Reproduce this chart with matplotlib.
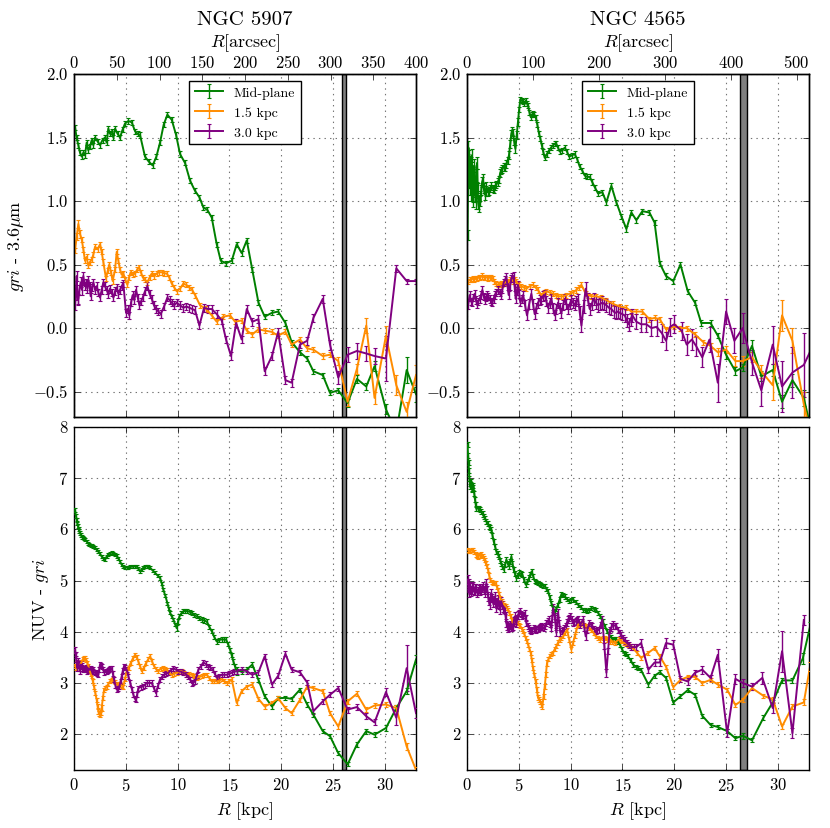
import matplotlib
matplotlib.use('Agg')
import matplotlib.pyplot as plt

plt.style.use('classic')
plt.rcParams['font.family'] = 'serif'
plt.rcParams['font.serif'] = ['cmr10']
plt.rcParams['mathtext.fontset'] = 'cm'
plt.rcParams['axes.formatter.use_mathtext'] = True
plt.rcParams['figure.facecolor'] = 'white'
plt.rcParams['savefig.facecolor'] = 'white'

# (R [kpc], colour, error)
# ---- NGC 5907, gri - 3.6um
n5907_gri_mid = [(0.10,1.58,.02),(0.25,1.50,.02),(0.42,1.44,.02),(0.58,1.38,.02),(0.74,1.35,.02),(0.90,1.38,.02),
    (1.06,1.36,.02),(1.22,1.46,.02),(1.38,1.40,.02),(1.54,1.43,.02),(1.71,1.48,.02),(1.87,1.44,.02),(2.03,1.50,.02),
    (2.27,1.47,.02),(2.51,1.44,.02),(2.75,1.48,.02),(2.99,1.50,.02),(3.15,1.46,.02),(3.31,1.57,.02),(3.47,1.53,.02),
    (3.64,1.55,.02),(3.80,1.50,.02),(3.96,1.57,.02),(4.20,1.53,.02),(4.44,1.50,.02),(4.68,1.56,.02),(4.92,1.61,.02),
    (5.24,1.63,.02),(5.57,1.62,.02),(5.89,1.55,.02),(6.13,1.53,.02),(6.37,1.52,.02),(6.85,1.35,.02),(7.22,1.31,.02),
    (7.59,1.28,.02),(7.95,1.35,.02),(8.30,1.46,.02),(8.65,1.60,.02),(9.01,1.68,.02),(9.43,1.64,.02),(9.85,1.52,.02),
    (10.23,1.37,.02),(10.71,1.30,.02),(11.20,1.16,.02),(11.68,1.08,.02),(12.10,1.03,.02),(12.48,0.95,.02),
    (12.87,0.93,.02),(13.29,0.87,.02),(13.77,0.66,.02),(14.16,0.53,.02),(14.67,0.51,.02),(15.22,0.53,.02),
    (15.70,0.66,.02),(16.18,0.59,.02),(16.67,0.69,.02),(17.2,0.46,.02),(17.8,0.20,.02),(18.4,0.09,.02),
    (19.1,0.12,.02),(19.7,0.13,.02),(20.4,0.04,.02),(21.0,-0.11,.02),(21.8,-0.19,.02),(22.5,-0.24,.02),
    (23.1,-0.34,.02),(24.0,-0.37,.02),(24.7,-0.51,.02),(25.5,-0.49,.02),(26.4,-0.59,.03),(27.3,-0.40,.03),
    (28.2,-0.46,.03),(29.0,-0.30,.04),(30.1,-0.64,.04),(31.1,-0.82,.05),(32.1,-0.33,.10),(33.0,-0.52,.06)]
n5907_gri_15 = [(0.10,0.61,.02),(0.26,0.72,.03),(0.42,0.82,.03),(0.58,0.74,.03),(0.74,0.70,.02),(0.90,0.62,.02),
    (1.06,0.53,.02),(1.22,0.56,.02),(1.38,0.49,.02),(1.54,0.52,.02),(1.71,0.54,.02),(1.87,0.58,.02),(2.03,0.64,.02),
    (2.27,0.62,.02),(2.51,0.66,.02),(2.67,0.60,.02),(2.83,0.52,.02),(3.09,0.39,.02),(3.25,0.45,.02),(3.41,0.50,.02),
    (3.57,0.44,.02),(3.73,0.37,.02),(3.96,0.46,.02),(4.12,0.60,.02),(4.28,0.53,.02),(4.44,0.46,.02),(4.60,0.42,.02),
    (4.76,0.43,.02),(4.96,0.38,.02),(5.15,0.34,.02),(5.31,0.40,.02),(5.47,0.44,.02),(5.68,0.42,.02),(5.89,0.43,.02),
    (6.09,0.46,.02),(6.27,0.48,.02),(6.45,0.44,.02),(6.63,0.40,.02),(6.85,0.38,.02),(7.08,0.36,.02),(7.30,0.40,.02),
    (7.50,0.43,.02),(7.75,0.41,.02),(7.98,0.43,.02),(8.22,0.44,.02),(8.46,0.44,.02),(8.70,0.43,.02),(8.94,0.43,.02),
    (9.19,0.40,.02),(9.43,0.35,.02),(9.67,0.32,.02),(9.91,0.29,.02),(10.23,0.31,.02),(10.55,0.35,.02),
    (10.84,0.34,.02),(11.13,0.32,.02),(11.41,0.30,.02),(11.68,0.26,.02),(12.16,0.18,.02),(12.74,0.15,.02),
    (13.29,0.10,.02),(13.77,0.05,.02),(14.41,0.09,.02),(15.06,0.10,.02),(15.54,0.05,.02),(16.18,0.06,.02),
    (16.67,-0.02,.02),(17.2,-0.05,.02),(17.8,-0.01,.02),(18.4,-0.02,.02),(19.1,-0.03,.02),(19.7,-0.06,.02),
    (20.4,-0.03,.02),(21.0,-0.13,.02),(21.8,-0.09,.02),(22.5,-0.16,.02),(23.1,-0.17,.02),(24.0,-0.22,.02),
    (24.7,-0.21,.02),(25.5,-0.26,.03),(26.4,-0.58,.03),(27.3,-0.32,.04),(28.2,0.02,.06),(29.0,-0.55,.05),
    (30.1,-0.06,.08),(31.1,-0.45,.08),(32.1,-0.66,.08),(33.0,-0.37,.08)]
n5907_gri_30 = [(0.10,0.18,.04),(0.18,0.30,.04),(0.26,0.41,.04),(0.34,0.22,.04),(0.42,0.23,.04),(0.52,0.30,.04),
    (0.64,0.36,.04),(0.77,0.30,.04),(0.90,0.41,.03),(1.03,0.33,.03),(1.16,0.36,.03),(1.29,0.31,.03),(1.38,0.38,.03),
    (1.50,0.33,.03),(1.61,0.25,.03),(1.74,0.32,.03),(1.87,0.36,.03),(2.03,0.30,.03),(2.19,0.33,.03),(2.35,0.28,.03),
    (2.51,0.24,.03),(2.67,0.30,.03),(2.83,0.36,.03),(2.99,0.33,.03),(3.15,0.30,.03),(3.31,0.27,.03),(3.47,0.31,.03),
    (3.64,0.28,.03),(3.80,0.24,.03),(3.96,0.29,.03),(4.12,0.32,.03),(4.28,0.27,.03),(4.44,0.30,.03),(4.60,0.33,.03),
    (4.76,0.35,.03),(5.02,0.12,.03),(5.18,0.15,.03),(5.34,0.10,.03),(5.50,0.20,.03),(5.66,0.26,.03),(5.82,0.22,.03),
    (5.98,0.30,.03),(6.15,0.24,.03),(6.31,0.18,.03),(6.47,0.21,.03),(6.63,0.24,.03),(6.85,0.29,.03),(7.08,0.33,.03),
    (7.29,0.27,.03),(7.50,0.23,.03),(7.71,0.18,.03),(7.92,0.15,.03),(8.15,0.13,.03),(8.37,0.11,.03),(8.69,0.17,.03),
    (9.01,0.24,.03),(9.22,0.22,.03),(9.43,0.20,.03),(9.67,0.18,.03),(9.91,0.20,.03),(10.23,0.18,.03),
    (10.55,0.16,.03),(10.84,0.17,.03),(11.13,0.16,.03),(11.41,0.15,.03),(11.68,0.14,.03),(12.10,0.02,.03),
    (12.55,0.16,.03),(12.92,0.15,.03),(13.29,0.15,.03),(13.77,0.11,.03),(14.25,0.06,.03),(14.67,-0.09,.03),
    (15.15,-0.22,.03),(15.64,0.04,.03),(16.18,-0.09,.03),(16.67,0.15,.03),(17.2,0.05,.03),(17.8,0.07,.03),
    (18.4,-0.34,.03),(19.1,-0.22,.03),(19.7,-0.03,.03),(20.4,-0.41,.03),(21.0,-0.43,.03),(21.8,-0.13,.03),
    (22.5,-0.10,.03),(23.1,0.08,.03),(24.0,0.23,.03),(24.7,-0.13,.04),(25.5,-0.39,.05),(26.4,-0.21,.06),
    (27.3,-0.18,.06),(28.2,-0.20,.06),(29.0,-0.22,.06),(30.1,-0.24,.18),(31.1,0.47,.03),(32.1,0.37,.02),
    (33.0,0.37,.02)]

# ---- NGC 4565, gri - 3.6um
n4565_gri_mid = [(0.05,0.73,.04),(0.10,1.10,.05),(0.14,1.42,.05),(0.19,1.25,.05),(0.23,1.35,.05),(0.28,1.10,.05),
    (0.32,1.17,.05),(0.37,1.30,.05),(0.41,1.05,.05),(0.45,1.36,.05),(0.50,1.15,.05),(0.54,1.00,.05),(0.58,1.04,.05),
    (0.62,1.22,.05),(0.67,1.10,.05),(0.71,1.28,.05),(0.76,1.08,.05),(0.80,1.15,.05),(0.84,0.99,.05),(0.88,1.05,.05),
    (0.93,1.20,.05),(0.97,1.30,.05),(1.03,1.10,.04),(1.09,0.98,.04),(1.15,0.95,.04),(1.22,1.04,.04),(1.30,1.00,.04),
    (1.38,1.09,.04),(1.46,1.15,.04),(1.54,1.17,.04),(1.62,1.10,.04),(1.71,1.05,.04),(1.79,1.08,.04),(1.87,1.11,.04),
    (2.00,1.07,.03),(2.12,1.08,.03),(2.24,1.10,.03),(2.35,1.12,.03),(2.48,1.10,.03),(2.61,1.09,.03),(2.72,1.12,.03),
    (2.83,1.13,.03),(2.96,1.15,.03),(3.09,1.17,.03),(3.20,1.22,.03),(3.31,1.24,.03),(3.42,1.25,.03),(3.54,1.27,.03),
    (3.67,1.27,.03),(3.80,1.29,.03),(3.92,1.32,.03),(4.05,1.36,.03),(4.17,1.45,.03),(4.28,1.53,.03),(4.36,1.55,.03),
    (4.44,1.54,.03),(4.55,1.47,.03),(4.67,1.41,.03),(4.80,1.52,.03),(4.92,1.62,.03),(5.03,1.72,.02),(5.15,1.80,.02),
    (5.28,1.79,.02),(5.41,1.78,.02),(5.53,1.77,.02),(5.66,1.79,.02),(5.78,1.77,.02),(5.89,1.75,.02),(6.02,1.70,.02),
    (6.15,1.66,.02),(6.26,1.68,.02),(6.37,1.69,.02),(6.50,1.68,.02),(6.63,1.66,.02),(6.79,1.60,.02),(6.95,1.53,.02),
    (7.08,1.49,.02),(7.21,1.44,.02),(7.35,1.39,.02),(7.50,1.34,.02),(7.71,1.37,.02),(7.92,1.40,.02),(8.11,1.42,.02),
    (8.30,1.44,.02),(8.46,1.45,.02),(8.62,1.45,.02),(8.78,1.42,.02),(8.94,1.39,.02),(9.19,1.40,.02),(9.43,1.42,.02),
    (9.64,1.39,.02),(9.85,1.35,.02),(10.12,1.36,.02),(10.39,1.37,.02),(10.63,1.33,.02),(10.88,1.27,.02),
    (11.12,1.24,.02),(11.36,1.20,.02),(11.60,1.19,.02),(11.84,1.19,.02),(12.08,1.15,.02),(12.32,1.11,.02),
    (12.64,1.06,.02),(13.06,1.07,.02),(13.45,0.99,.02),(13.93,1.12,.02),(14.41,0.99,.02),(14.90,0.88,.02),
    (15.38,0.78,.02),(15.86,0.91,.02),(16.34,0.85,.02),(16.92,0.92,.02),(17.6,0.91,.02),(18.1,0.83,.02),
    (18.6,0.51,.02),(19.2,0.41,.02),(19.9,0.37,.02),(20.6,0.50,.02),(21.3,0.29,.02),(22.0,0.20,.02),
    (22.6,0.04,.02),(23.5,0.04,.02),(24.2,-0.06,.02),(25.0,-0.21,.03),(25.9,-0.34,.03),(26.6,-0.31,.03),
    (27.5,-0.14,.05),(28.4,-0.38,.04),(29.5,-0.33,.05),(30.4,-0.58,.05),(31.4,-0.41,.05),(32.5,-0.55,.06),
    (33.2,-0.80,.06)]
n4565_gri_15 = [(0.10,0.37,.02),(0.25,0.38,.02),(0.40,0.38,.02),(0.55,0.39,.02),(0.70,0.38,.02),(0.85,0.39,.02),
    (1.00,0.39,.02),(1.15,0.40,.02),(1.30,0.40,.02),(1.45,0.41,.02),(1.60,0.40,.02),(1.75,0.40,.02),(1.90,0.40,.02),
    (2.05,0.39,.02),(2.20,0.40,.02),(2.35,0.40,.02),(2.50,0.39,.02),(2.65,0.37,.02),(2.80,0.35,.02),(2.95,0.34,.02),
    (3.10,0.34,.02),(3.25,0.35,.02),(3.40,0.34,.02),(3.55,0.35,.02),(3.70,0.36,.02),(3.85,0.37,.02),(4.00,0.36,.02),
    (4.15,0.38,.02),(4.30,0.38,.02),(4.45,0.37,.02),(4.60,0.38,.02),(4.75,0.37,.02),(4.90,0.35,.02),(5.05,0.34,.02),
    (5.24,0.33,.02),(5.48,0.32,.02),(5.73,0.31,.02),(6.05,0.33,.02),(6.37,0.34,.02),(6.61,0.32,.02),(6.85,0.30,.02),
    (7.17,0.26,.02),(7.41,0.28,.02),(7.66,0.29,.02),(7.98,0.28,.02),(8.30,0.27,.02),(8.54,0.26,.02),(8.78,0.25,.02),
    (9.03,0.25,.02),(9.27,0.25,.02),(9.59,0.26,.02),(9.91,0.27,.02),(10.23,0.28,.02),(10.55,0.30,.02),
    (10.80,0.32,.02),(11.04,0.34,.02),(11.45,0.27,.02),(11.72,0.26,.02),(12.00,0.25,.02),(12.48,0.25,.02),
    (12.97,0.24,.02),(13.45,0.22,.02),(14.09,0.19,.02),(14.74,0.17,.02),(15.38,0.16,.02),(15.86,0.13,.02),
    (16.34,0.13,.02),(16.92,0.13,.02),(17.6,0.07,.02),(18.1,0.08,.02),(18.6,0.07,.02),(19.2,-0.01,.02),
    (20.0,0.01,.02),(20.6,0.00,.02),(21.2,0.00,.02),(22.0,-0.05,.02),(22.8,-0.11,.02),(23.5,-0.14,.02),
    (24.2,-0.19,.03),(25.0,-0.17,.03),(25.9,-0.26,.04),(26.6,-0.26,.04),(27.5,-0.23,.04),(28.4,-0.34,.05),
    (29.5,-0.45,.12),(30.4,0.10,.12),(31.4,-0.10,.10),(32.5,-0.60,.10),(33.2,-0.85,.10)]
n4565_gri_30 = [(0.10,0.18,.03),(0.26,0.26,.03),(0.38,0.21,.03),(0.51,0.20,.03),(0.62,0.24,.03),(0.74,0.27,.03),
    (0.86,0.22,.03),(0.97,0.19,.03),(1.10,0.21,.03),(1.22,0.23,.03),(1.35,0.26,.03),(1.48,0.30,.03),(1.60,0.25,.03),
    (1.71,0.22,.03),(1.82,0.24,.03),(1.93,0.26,.03),(2.06,0.25,.03),(2.19,0.23,.03),(2.32,0.21,.03),(2.45,0.20,.03),
    (2.56,0.23,.03),(2.67,0.26,.03),(2.83,0.28,.03),(2.99,0.30,.03),(3.15,0.28,.03),(3.31,0.26,.03),(3.42,0.31,.03),
    (3.54,0.36,.03),(3.67,0.38,.03),(3.80,0.40,.03),(3.91,0.33,.03),(4.02,0.26,.03),(4.15,0.33,.03),(4.28,0.39,.03),
    (4.39,0.40,.03),(4.50,0.41,.03),(4.60,0.32,.03),(4.70,0.23,.03),(4.81,0.29,.03),(4.92,0.34,.03),(5.04,0.27,.03),
    (5.15,0.20,.03),(5.28,0.23,.03),(5.41,0.26,.03),(5.60,0.18,.04),(5.79,0.10,.04),(6.00,0.19,.04),(6.21,0.27,.04),
    (6.37,0.19,.04),(6.53,0.11,.04),(6.69,0.16,.04),(6.85,0.20,.04),(7.01,0.22,.04),(7.17,0.23,.04),(7.34,0.25,.04),
    (7.50,0.26,.04),(7.66,0.21,.04),(7.82,0.16,.04),(7.98,0.20,.04),(8.14,0.23,.04),(8.30,0.16,.04),(8.46,0.10,.04),
    (8.62,0.15,.04),(8.78,0.20,.04),(8.94,0.16,.04),(9.11,0.12,.04),(9.27,0.18,.04),(9.43,0.23,.04),(9.59,0.19,.04),
    (9.75,0.15,.04),(9.91,0.19,.04),(10.07,0.22,.04),(10.23,0.20,.04),(10.39,0.18,.04),(10.55,0.21,.04),
    (10.71,0.23,.04),(10.88,0.12,.05),(11.04,0.02,.05),(11.25,0.17,.05),(11.45,0.31,.05),(11.65,0.23,.05),
    (11.84,0.15,.05),(12.04,0.19,.05),(12.23,0.23,.05),(12.44,0.20,.05),(12.64,0.18,.05),(12.85,0.19,.05),
    (13.06,0.20,.05),(13.25,0.19,.05),(13.45,0.18,.05),(13.69,0.16,.05),(13.93,0.15,.05),(14.14,0.13,.05),
    (14.35,0.12,.05),(14.55,0.13,.05),(14.74,0.12,.05),(14.98,0.11,.05),(15.22,0.10,.05),(15.42,0.06,.05),
    (15.60,0.03,.05),(15.78,0.07,.05),(15.96,0.10,.05),(16.34,0.05,.06),(16.8,0.03,.06),(17.3,0.03,.06),
    (17.8,0.00,.06),(18.3,0.01,.07),(18.8,-0.04,.07),(19.2,-0.10,.07),(19.6,0.01,.07),(20.0,0.03,.07),
    (20.7,-0.02,.07),(21.2,-0.13,.08),(21.7,-0.09,.08),(22.1,-0.14,.08),(22.7,-0.23,.08),(23.4,-0.09,.10),
    (24.2,-0.43,.15),(25.0,0.13,.10),(25.8,-0.10,.10),(26.6,0.00,.12),(27.5,-0.27,.10),(28.4,-0.49,.12),
    (29.5,-0.13,.15),(30.4,-0.46,.20),(31.4,-0.35,.20),(32.5,-0.29,.25),(33.2,-0.17,.25)]

# ---- NGC 5907, NUV - gri
n5907_nuv_mid = [(0.10,6.37,.04),(0.19,6.26,.04),(0.26,6.18,.04),(0.32,6.12,.04),(0.39,6.06,.04),(0.45,6.00,.04),
    (0.52,5.96,.04),(0.58,5.93,.04),(0.66,5.89,.04),(0.74,5.86,.04),(0.85,5.84,.03),(0.97,5.83,.03),(1.10,5.80,.03),
    (1.22,5.77,.03),(1.35,5.73,.03),(1.48,5.70,.03),(1.60,5.69,.03),(1.71,5.68,.03),(1.87,5.66,.03),(2.03,5.64,.03),
    (2.19,5.60,.03),(2.35,5.57,.03),(2.51,5.52,.03),(2.67,5.47,.03),(2.83,5.44,.03),(2.99,5.41,.03),(3.15,5.47,.03),
    (3.31,5.51,.03),(3.47,5.53,.03),(3.64,5.55,.03),(3.80,5.53,.03),(3.96,5.51,.03),(4.12,5.48,.03),(4.28,5.44,.03),
    (4.44,5.37,.03),(4.60,5.31,.03),(4.76,5.27,.03),(4.92,5.25,.03),(5.08,5.26,.03),(5.24,5.25,.03),(5.45,5.27,.03),
    (5.66,5.27,.03),(5.85,5.28,.03),(6.05,5.28,.03),(6.21,5.23,.03),(6.37,5.18,.03),(6.53,5.22,.03),(6.69,5.25,.03),
    (6.85,5.27,.03),(7.01,5.28,.03),(7.17,5.27,.03),(7.34,5.25,.03),(7.58,5.20,.03),(7.82,5.15,.03),(8.06,5.10,.03),
    (8.30,5.05,.03),(8.46,4.95,.03),(8.62,4.82,.03),(8.82,4.70,.03),(9.01,4.56,.03),(9.14,4.46,.03),(9.27,4.37,.03),
    (9.43,4.30,.03),(9.59,4.24,.03),(9.75,4.15,.03),(9.91,4.07,.06),(10.04,4.20,.04),(10.17,4.30,.04),
    (10.36,4.36,.04),(10.55,4.40,.04),(10.75,4.41,.04),(10.94,4.40,.04),(11.15,4.39,.04),(11.36,4.37,.04),
    (11.60,4.33,.04),(11.84,4.30,.04),(12.08,4.27,.04),(12.32,4.24,.04),(12.56,4.22,.04),(12.81,4.20,.04),
    (13.05,4.10,.04),(13.29,4.01,.04),(13.53,3.90,.04),(13.77,3.81,.04),(14.01,3.84,.04),(14.25,3.85,.04),
    (14.46,3.85,.04),(14.67,3.85,.04),(14.86,3.76,.04),(15.06,3.65,.04),(15.22,3.54,.04),(15.38,3.42,.04),
    (15.54,3.32,.05),(15.70,3.23,.08),(16.18,3.23,.05),(16.67,3.26,.05),(17.2,3.36,.05),(17.8,3.06,.04),
    (18.4,2.74,.04),(19.1,2.54,.04),(19.7,2.70,.04),(20.4,2.71,.04),(21.0,2.69,.04),(21.8,2.87,.04),
    (22.5,2.58,.04),(23.1,2.38,.04),(24.0,2.06,.04),(24.7,1.96,.04),(25.5,1.63,.04),(26.4,1.41,.04),
    (27.3,1.80,.05),(28.2,2.06,.05),(29.0,1.99,.05),(30.1,2.12,.05),(31.1,2.51,.05),(32.1,2.84,.06),
    (33.0,3.46,.08)]
n5907_nuv_15 = [(0.10,3.33,.04),(0.21,3.30,.04),(0.32,3.39,.04),(0.45,3.36,.04),(0.58,3.34,.04),(0.71,3.40,.04),
    (0.84,3.46,.04),(0.95,3.49,.04),(1.06,3.49,.04),(1.17,3.45,.04),(1.29,3.39,.04),(1.38,3.33,.04),(1.48,3.26,.04),
    (1.60,3.18,.04),(1.71,3.13,.04),(1.82,3.03,.04),(1.93,2.93,.04),(2.06,2.80,.04),(2.19,2.67,.04),(2.27,2.55,.04),
    (2.35,2.45,.05),(2.43,2.40,.05),(2.51,2.38,.05),(2.59,2.43,.05),(2.67,2.51,.05),(2.78,2.70,.04),(2.90,2.87,.04),
    (3.02,2.90,.04),(3.15,2.93,.04),(3.31,2.98,.04),(3.47,3.03,.04),(3.64,3.05,.04),(3.80,3.07,.04),(3.96,3.02,.04),
    (4.12,2.97,.04),(4.28,2.98,.04),(4.44,2.97,.04),(4.60,2.95,.04),(4.76,2.93,.04),(4.92,3.08,.04),(5.08,3.23,.04),
    (5.27,3.30,.04),(5.47,3.39,.04),(5.68,3.48,.04),(5.89,3.55,.04),(6.05,3.50,.04),(6.21,3.42,.04),(6.37,3.33,.04),
    (6.53,3.23,.04),(6.74,3.30,.04),(6.95,3.39,.04),(7.15,3.46,.04),(7.34,3.52,.04),(7.53,3.42,.04),(7.72,3.33,.04),
    (7.93,3.27,.04),(8.14,3.23,.04),(8.35,3.28,.04),(8.56,3.29,.04),(8.75,3.27,.04),(8.94,3.26,.04),(9.19,3.20,.04),
    (9.43,3.16,.04),(9.67,3.18,.04),(9.91,3.20,.04),(10.15,3.22,.04),(10.39,3.23,.04),(10.63,3.19,.04),
    (10.88,3.16,.04),(11.12,3.17,.04),(11.36,3.16,.04),(11.60,3.13,.04),(11.84,3.10,.04),(12.08,3.12,.04),
    (12.32,3.13,.04),(12.56,3.15,.04),(12.81,3.16,.04),(13.05,3.10,.04),(13.29,3.03,.04),(13.53,3.04,.04),
    (13.77,3.03,.04),(14.01,3.05,.04),(14.25,3.07,.04),(14.50,3.04,.04),(14.74,3.00,.04),(14.98,3.04,.04),
    (15.22,3.07,.04),(15.70,2.61,.05),(16.18,2.84,.04),(16.67,2.93,.04),(17.2,2.97,.04),(17.8,2.69,.04),
    (18.4,2.54,.04),(19.1,2.61,.04),(19.7,2.70,.04),(20.4,2.51,.04),(21.0,2.41,.04),(21.8,2.67,.04),
    (22.5,2.93,.04),(23.1,2.90,.04),(24.0,2.84,.04),(24.7,2.41,.04),(25.5,2.15,.05),(26.4,2.64,.05),
    (27.3,2.79,.05),(28.2,2.48,.05),(29.0,2.56,.05),(30.1,2.58,.05),(31.1,2.51,.05),(32.1,1.76,.06),
    (33.0,1.30,.06)]
n5907_nuv_30 = [(0.10,3.65,.06),(0.16,3.55,.06),(0.22,3.46,.06),(0.27,3.38,.06),(0.32,3.29,.06),(0.39,3.42,.06),
    (0.45,3.36,.06),(0.52,3.30,.06),(0.58,3.23,.06),(0.66,3.36,.06),(0.74,3.30,.06),(0.82,3.33,.06),(0.90,3.26,.05),
    (0.98,3.29,.05),(1.06,3.27,.05),(1.14,3.31,.05),(1.22,3.23,.05),(1.30,3.30,.05),(1.38,3.25,.05),(1.46,3.28,.05),
    (1.54,3.26,.05),(1.62,3.29,.05),(1.71,3.25,.05),(1.79,3.27,.05),(1.87,3.23,.05),(2.00,3.20,.05),(2.12,3.20,.05),
    (2.24,3.18,.05),(2.35,3.16,.05),(2.43,3.26,.05),(2.51,3.36,.05),(2.62,3.34,.05),(2.73,3.33,.05),(2.83,3.26,.05),
    (2.93,3.20,.05),(3.04,3.22,.05),(3.15,3.23,.05),(3.28,3.24,.05),(3.41,3.26,.05),(3.52,3.28,.05),(3.64,3.29,.05),
    (3.75,3.18,.05),(3.86,3.07,.05),(4.00,2.95,.05),(4.12,2.87,.05),(4.25,2.90,.05),(4.38,2.93,.05),(4.49,3.03,.05),
    (4.60,3.13,.05),(4.72,3.25,.05),(4.83,3.33,.05),(4.95,3.30,.05),(5.08,3.26,.05),(5.25,3.13,.05),(5.41,3.00,.05),
    (5.57,2.88,.05),(5.73,2.77,.05),(5.85,2.70,.05),(5.98,2.67,.05),(6.10,2.78,.05),(6.21,2.90,.05),(6.42,2.92,.05),
    (6.63,2.93,.05),(6.82,2.96,.05),(7.01,3.00,.05),(7.25,3.00,.05),(7.50,3.00,.05),(7.71,2.90,.05),(7.92,2.80,.05),
    (8.11,2.95,.05),(8.30,3.07,.05),(8.49,3.12,.05),(8.69,3.16,.05),(8.90,3.18,.05),(9.11,3.20,.05),(9.35,3.25,.05),
    (9.59,3.29,.05),(9.83,3.26,.05),(10.07,3.23,.05),(10.31,3.22,.05),(10.55,3.20,.05),(10.79,3.17,.05),
    (11.04,3.13,.05),(11.20,3.07,.05),(11.36,3.00,.05),(11.52,3.01,.05),(11.68,3.03,.05),(11.84,3.15,.05),
    (12.00,3.26,.05),(12.24,3.33,.05),(12.48,3.40,.05),(12.73,3.37,.05),(12.97,3.33,.05),(13.17,3.30,.05),
    (13.38,3.26,.05),(13.57,3.18,.05),(13.77,3.10,.05),(14.01,3.13,.05),(14.25,3.16,.05),(14.50,3.16,.05),
    (14.74,3.16,.05),(14.98,3.18,.05),(15.22,3.20,.05),(15.46,3.22,.05),(15.70,3.23,.05),(16.18,3.26,.05),
    (16.67,3.23,.05),(17.2,3.16,.05),(17.8,3.21,.05),(18.4,3.52,.05),(19.1,2.97,.05),(19.7,3.14,.05),
    (20.4,3.57,.05),(21.0,3.26,.05),(21.8,3.21,.05),(22.5,3.01,.05),(23.1,2.45,.05),(24.0,2.64,.05),
    (24.7,2.77,.05),(25.5,2.90,.05),(26.4,2.48,.06),(27.3,2.53,.06),(28.2,2.35,.06),(29.0,2.23,.06),
    (30.1,2.82,.08),(31.1,2.32,.15),(32.1,3.29,.45),(33.0,2.41,.10)]

# ---- NGC 4565, NUV - gri
n4565_nuv_mid = [(0.05,7.65,.05),(0.10,7.45,.05),(0.15,7.30,.05),(0.19,7.15,.05),(0.23,7.00,.05),(0.28,6.90,.05),
    (0.32,6.84,.05),(0.37,6.94,.05),(0.42,6.88,.05),(0.47,6.80,.05),(0.51,6.78,.05),(0.56,6.85,.05),(0.62,6.81,.05),
    (0.70,6.70,.05),(0.77,6.58,.05),(0.84,6.48,.05),(0.90,6.40,.05),(1.03,6.41,.05),(1.16,6.40,.05),(1.27,6.38,.05),
    (1.38,6.35,.05),(1.50,6.30,.05),(1.61,6.26,.05),(1.74,6.21,.05),(1.87,6.16,.05),(2.00,6.11,.05),(2.12,6.06,.05),
    (2.24,6.03,.05),(2.35,6.00,.05),(2.46,5.88,.05),(2.57,5.77,.05),(2.70,5.67,.05),(2.83,5.57,.05),(2.96,5.52,.05),
    (3.09,5.47,.05),(3.20,5.40,.05),(3.31,5.34,.05),(3.42,5.28,.05),(3.54,5.21,.05),(3.67,5.31,.05),(3.80,5.41,.05),
    (3.92,5.34,.05),(4.05,5.28,.05),(4.17,5.38,.05),(4.28,5.47,.05),(4.39,5.34,.05),(4.50,5.21,.05),(4.63,5.13,.05),
    (4.76,5.05,.05),(4.89,5.10,.05),(5.02,5.15,.05),(5.18,5.13,.05),(5.34,5.12,.05),(5.50,5.02,.05),(5.66,4.92,.05),
    (5.82,4.98,.05),(5.98,5.05,.05),(6.11,5.12,.05),(6.24,5.18,.05),(6.39,5.08,.05),(6.53,4.99,.04),(6.69,4.97,.04),
    (6.85,4.95,.04),(7.01,4.94,.04),(7.17,4.92,.04),(7.34,4.90,.04),(7.50,4.89,.04),(7.66,4.84,.04),(7.82,4.79,.04),
    (7.98,4.68,.04),(8.14,4.56,.04),(8.30,4.46,.04),(8.46,4.37,.04),(8.62,4.45,.04),(8.78,4.53,.04),(8.95,4.63,.04),
    (9.11,4.73,.04),(9.27,4.71,.04),(9.43,4.69,.04),(9.64,4.64,.04),(9.85,4.60,.04),(10.04,4.62,.04),
    (10.23,4.63,.04),(10.47,4.58,.04),(10.71,4.53,.04),(10.96,4.48,.04),(11.20,4.43,.04),(11.39,4.42,.04),
    (11.58,4.40,.04),(11.79,4.43,.04),(12.00,4.46,.04),(12.21,4.45,.04),(12.42,4.43,.04),(12.65,4.37,.04),
    (12.87,4.30,.04),(13.08,4.20,.04),(13.29,4.11,.04),(13.50,4.02,.04),(13.71,3.94,.04),(13.90,3.89,.04),
    (14.09,3.85,.04),(14.25,3.86,.04),(14.41,3.85,.04),(14.58,3.80,.04),(14.74,3.75,.04),(14.93,3.67,.04),
    (15.12,3.59,.04),(15.33,3.56,.04),(15.54,3.52,.04),(15.78,3.44,.04),(16.02,3.36,.04),(16.27,3.32,.04),
    (16.51,3.29,.04),(16.8,3.25,.04),(17.5,2.97,.04),(18.1,3.14,.04),(18.6,3.21,.04),(19.2,3.10,.04),
    (19.9,2.62,.04),(20.6,2.74,.04),(21.3,2.86,.04),(22.0,2.77,.04),(22.7,2.36,.04),(23.5,2.18,.04),
    (24.2,2.14,.04),(25.1,2.06,.04),(25.9,1.92,.04),(26.6,1.97,.06),(27.5,1.88,.04),(28.6,2.32,.05),
    (29.5,2.62,.05),(30.4,3.05,.05),(31.4,3.05,.05),(32.4,3.48,.10),(33.1,4.10,.10)]
n4565_nuv_15 = [(0.10,5.60,.04),(0.21,5.58,.04),(0.32,5.57,.04),(0.45,5.59,.04),(0.58,5.60,.04),(0.71,5.55,.04),
    (0.84,5.51,.04),(0.95,5.49,.04),(1.06,5.47,.04),(1.22,5.49,.04),(1.38,5.51,.04),(1.50,5.48,.04),(1.61,5.44,.04),
    (1.71,5.40,.04),(1.80,5.34,.04),(1.92,5.28,.04),(2.03,5.21,.04),(2.14,5.10,.04),(2.25,5.02,.04),(2.38,4.98,.04),
    (2.51,4.95,.04),(2.64,4.95,.04),(2.77,4.95,.04),(2.88,4.88,.04),(2.99,4.82,.04),(3.10,4.74,.04),(3.22,4.66,.04),
    (3.35,4.61,.04),(3.47,4.56,.04),(3.60,4.53,.04),(3.73,4.50,.04),(3.85,4.47,.04),(3.96,4.43,.04),(4.09,4.37,.04),
    (4.21,4.30,.04),(4.33,4.23,.04),(4.44,4.17,.04),(4.57,4.20,.04),(4.70,4.24,.04),(4.81,4.20,.04),(4.92,4.17,.04),
    (5.04,4.14,.04),(5.15,4.11,.04),(5.28,4.06,.04),(5.41,4.01,.04),(5.54,3.95,.04),(5.66,3.88,.04),(5.78,3.82,.04),
    (5.89,3.75,.04),(6.02,3.67,.04),(6.15,3.59,.04),(6.26,3.44,.04),(6.37,3.29,.04),(6.50,3.16,.04),(6.63,3.03,.04),
    (6.74,2.87,.05),(6.85,2.71,.05),(6.97,2.68,.05),(7.08,2.64,.05),(7.18,2.59,.05),(7.27,2.54,.05),(7.39,2.74,.05),
    (7.50,2.93,.05),(7.61,3.16,.05),(7.72,3.39,.05),(7.85,3.46,.04),(7.98,3.52,.04),(8.14,3.56,.04),(8.30,3.59,.04),
    (8.46,3.66,.04),(8.62,3.72,.04),(8.78,3.79,.04),(8.94,3.85,.04),(9.11,3.88,.04),(9.27,3.91,.04),(9.46,3.98,.04),
    (9.65,4.04,.04),(9.86,3.85,.04),(10.07,3.65,.05),(10.23,3.78,.04),(10.39,3.91,.04),(10.55,4.03,.04),
    (10.71,4.14,.04),(10.92,4.16,.04),(11.13,4.17,.04),(11.33,4.14,.04),(11.52,4.11,.04),(11.76,4.08,.04),
    (12.00,4.04,.04),(12.21,3.98,.04),(12.42,3.91,.04),(12.65,3.88,.04),(12.87,3.85,.04),(13.08,3.87,.04),
    (13.29,3.88,.04),(13.53,3.85,.04),(13.77,3.81,.04),(14.01,3.80,.04),(14.25,3.78,.04),(14.46,3.82,.04),
    (14.67,3.85,.04),(14.90,3.82,.04),(15.12,3.78,.04),(15.33,3.77,.04),(15.54,3.75,.04),(15.78,3.72,.04),
    (16.02,3.68,.04),(16.4,3.59,.04),(16.8,3.49,.04),(17.5,3.59,.04),(18.1,3.68,.04),(18.6,3.52,.04),
    (19.2,3.32,.04),(19.9,2.92,.04),(20.6,3.06,.04),(21.3,3.12,.04),(22.0,3.12,.04),(22.7,3.00,.04),
    (23.5,3.06,.04),(24.2,2.97,.04),(25.1,2.87,.04),(25.9,2.57,.04),(26.6,2.67,.04),(27.5,2.90,.04),
    (28.6,2.75,.04),(29.5,2.68,.05),(30.4,2.15,.05),(31.4,2.54,.05),(32.5,2.62,.06),(33.1,3.32,.08)]
n4565_nuv_30 = [(0.10,5.02,.08),(0.16,4.76,.08),(0.22,4.95,.08),(0.27,4.82,.08),(0.32,4.89,.08),(0.39,4.78,.08),
    (0.45,4.82,.08),(0.52,4.88,.08),(0.58,4.89,.08),(0.66,4.80,.08),(0.74,4.79,.08),(0.82,4.86,.08),(0.90,4.86,.08),
    (0.98,4.76,.08),(1.06,4.80,.08),(1.14,4.84,.08),(1.22,4.86,.08),(1.30,4.80,.08),(1.38,4.81,.08),(1.46,4.85,.08),
    (1.54,4.89,.08),(1.62,4.82,.08),(1.71,4.76,.08),(1.79,4.85,.08),(1.87,4.95,.08),(1.95,4.82,.08),(2.03,4.69,.08),
    (2.11,4.60,.08),(2.19,4.53,.08),(2.27,4.66,.08),(2.35,4.76,.08),(2.43,4.66,.08),(2.51,4.56,.08),(2.59,4.62,.08),
    (2.67,4.69,.08),(2.75,4.58,.08),(2.83,4.46,.08),(2.91,4.55,.08),(2.99,4.63,.08),(3.07,4.53,.08),(3.15,4.43,.08),
    (3.23,4.52,.08),(3.31,4.60,.08),(3.39,4.53,.08),(3.47,4.46,.08),(3.56,4.44,.08),(3.64,4.43,.08),(3.72,4.30,.08),
    (3.80,4.17,.08),(3.88,4.12,.08),(3.96,4.07,.08),(4.04,4.10,.08),(4.12,4.14,.08),(4.20,4.10,.08),(4.28,4.09,.08),
    (4.36,4.10,.08),(4.44,4.11,.08),(4.52,4.20,.08),(4.60,4.30,.08),(4.68,4.23,.08),(4.76,4.17,.08),(4.84,4.25,.08),
    (4.92,4.33,.08),(5.04,4.37,.06),(5.15,4.40,.06),(5.25,4.35,.06),(5.34,4.30,.06),(5.45,4.33,.06),(5.57,4.37,.06),
    (5.65,4.27,.06),(5.73,4.17,.06),(5.85,4.12,.06),(5.98,4.07,.06),(6.10,4.04,.06),(6.21,4.01,.06),(6.32,4.04,.06),
    (6.44,4.07,.06),(6.56,4.05,.06),(6.69,4.04,.06),(6.82,4.05,.06),(6.95,4.07,.06),(7.06,4.09,.06),(7.17,4.11,.06),
    (7.28,4.09,.06),(7.40,4.07,.06),(7.53,4.12,.06),(7.66,4.17,.06),(7.79,4.21,.06),(7.92,4.24,.06),(8.03,4.15,.06),
    (8.14,4.07,.06),(8.22,4.26,.06),(8.30,4.46,.08),(8.38,4.38,.06),(8.46,4.30,.06),(8.54,4.14,.06),(8.62,3.98,.06),
    (8.70,4.17,.06),(8.78,4.37,.08),(8.90,4.17,.06),(9.01,3.98,.06),(9.14,4.01,.06),(9.27,4.04,.06),(9.40,4.08,.06),
    (9.52,4.11,.06),(9.64,4.18,.06),(9.75,4.24,.06),(9.86,4.27,.06),(9.97,4.30,.06),(10.10,4.24,.06),(10.23,4.17,.06),
    (10.36,4.19,.06),(10.49,4.20,.06),(10.60,4.22,.06),(10.71,4.24,.06),(10.83,4.19,.06),(10.94,4.14,.06),
    (11.07,4.19,.06),(11.20,4.24,.06),(11.33,4.07,.06),(11.45,3.91,.08),(11.62,4.04,.06),(11.78,4.17,.06),
    (11.94,4.14,.06),(12.10,4.11,.06),(12.26,4.06,.06),(12.42,4.01,.06),(12.58,4.03,.06),(12.74,4.04,.06),
    (12.90,4.14,.06),(13.06,4.24,.06),(13.25,3.72,.06),(13.45,3.20,.08),(13.61,3.62,.06),(13.77,4.04,.06),
    (13.93,4.09,.08),(14.09,4.14,.08),(14.25,4.12,.06),(14.41,4.11,.06),(14.58,4.04,.06),(14.74,3.98,.06),
    (14.90,3.93,.06),(15.06,3.88,.06),(15.25,3.83,.06),(15.44,3.78,.06),(15.65,3.74,.06),(15.86,3.70,.06),
    (16.10,3.70,.06),(16.34,3.70,.06),(16.8,3.78,.08),(17.5,3.26,.06),(18.1,3.40,.06),(18.6,3.40,.06),
    (19.2,3.78,.10),(19.9,3.75,.08),(20.6,3.08,.06),(21.3,3.03,.06),(22.0,3.20,.06),(22.7,3.26,.08),
    (23.5,3.10,.06),(24.2,3.55,.12),(25.1,2.02,.08),(25.9,3.08,.10),(26.6,3.00,.07),(27.5,2.93,.06),
    (28.5,3.10,.12),(29.5,2.51,.10),(30.4,3.62,.40),(31.4,2.02,.10),(32.5,4.23,.10)]

galaxies = ['NGC 5907', 'NGC 4565']
kpc_per_arcsec = [0.0825, 0.0636]
arcsec_ticks = [[0, 50, 100, 150, 200, 250, 300, 350, 400], [0, 100, 200, 300, 400, 500]]
band = [(25.85, 26.22), (26.3, 27.05)]
heights = ['Mid-plane', '1.5 kpc', '3.0 kpc']
colors = ['green', 'darkorange', 'purple']
top_data = [[n5907_gri_mid, n5907_gri_15, n5907_gri_30], [n4565_gri_mid, n4565_gri_15, n4565_gri_30]]
bot_data = [[n5907_nuv_mid, n5907_nuv_15, n5907_nuv_30], [n4565_nuv_mid, n4565_nuv_15, n4565_nuv_30]]

W, H = 830., 829.
fig = plt.figure(figsize=(W / 100, H / 100), dpi=100)

lefts = [74, 467]
for g in range(2):
    axt = fig.add_axes([lefts[g] / W, 1 - 418 / H, 342 / W, 343 / H])
    axb = fig.add_axes([lefts[g] / W, 1 - 771 / H, 342 / W, 343 / H])
    for ax, data in [(axt, top_data[g]), (axb, bot_data[g])]:
        ax.axvspan(band[g][0], band[g][1], facecolor='0.5', edgecolor='k', lw=1, zorder=1)
        for series, c, lab in zip(data, colors, heights):
            r, v, e = zip(*series)
            ax.errorbar(r, v, yerr=e, color=c, lw=1.4, elinewidth=1.0, capsize=1.5, capthick=0.8,
                        label=lab, zorder=3)
        ax.set_xlim(0, 33)
        ax.set_xticks([0, 5, 10, 15, 20, 25, 30])
        ax.grid(True, color='0.45', linestyle=':', linewidth=0.8)
        ax.set_axisbelow(True)
        ax.tick_params(labelsize=12, direction='in')
    axt.set_ylim(-0.7, 2.0)
    axt.set_yticks([-0.5, 0.0, 0.5, 1.0, 1.5, 2.0])
    axt.set_yticklabels(['$-0.5$', '$0.0$', '$0.5$', '$1.0$', '$1.5$', '$2.0$'])
    axt.tick_params(labelbottom=False, top=False)
    axb.set_ylim(1.3, 8)
    axb.set_yticks([2, 3, 4, 5, 6, 7, 8])
    axb.set_xlabel('$R$ [kpc]', fontsize=13)

    top = axt.twiny()
    top.set_xlim(0, 33 / kpc_per_arcsec[g])
    top.set_xticks(arcsec_ticks[g])
    top.tick_params(labelsize=12, direction='in', pad=3)
    top.set_xlabel('$R$[arcsec]', fontsize=13, labelpad=5)

    leg = axt.legend(loc='upper center', numpoints=1, fontsize=10, frameon=True,
                     borderaxespad=0.5, handlelength=2.0)
    leg.get_frame().set_linewidth(1.0)

    fig.text((lefts[g] + 171) / W, 1 - 20 / H, galaxies[g], ha='center', va='center', fontsize=15)

    if g == 0:
        axt.set_ylabel(r'$gri$ - 3.6$\mu$m', fontsize=13)
        axb.set_ylabel(r'NUV - $gri$', fontsize=13)

fig.savefig('out.png', dpi=100)
